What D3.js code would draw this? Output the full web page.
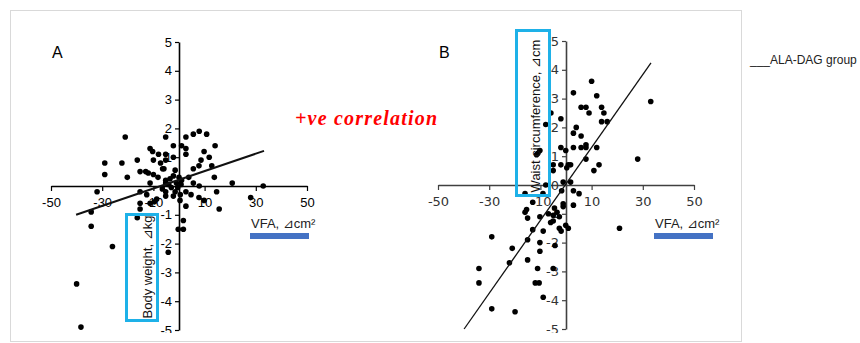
<!DOCTYPE html>
<html>
<head>
<meta charset="utf-8">
<script src="https://cdn.jsdelivr.net/npm/d3@7"></script>
<style>
  body { margin: 0; background: #fff; }
  svg { display: block; }
</style>
</head>
<body>
<svg id="chart" width="860" height="343"></svg>
<script>
// axis ticks shared by both panels
const xTicks = [-50, -30, -10, 10, 30, 50];
const yTicksA = [-5, -4, -3, -2, -1, 1, 2, 3, 4, 5];
const yTicksB = [-5, -4, -3, -2, -1, 0, 1, 2, 3, 4, 5];

// panel A: change in VFA vs change in body weight
const pointsA = [
  [-21, 1.7], [-29, 0.8], [-29, 0.4], [-32, -0.2], [-34.3, -0.9], [-34.3, -1.4], [-26, -2.1],
  [-40, -3.4], [-38.3, -4.9], [-22.3, 0.8], [-20.2, 0.3], [-16.3, 0.9], [-15.2, 0.5], [-13, 0.5],
  [-11.3, 1.3], [-10.3, 1.2], [-10, 0.9], [-12, 0.45], [-10, 0.4], [-11.3, 0.1], [-15.2, -0.2],
  [-15.2, -0.6], [-15.2, -0.8], [-16.3, -1.1], [-12.6, -0.3], [-11.3, -0.6], [-9.6, -0.55],
  [-8.7, -0.45], [-8.2, 0.3], [-7.2, 0.8], [-6.4, 0.6], [-5.9, 0.6], [-5.2, 1.7], [-5.2, 1.1],
  [-5.2, 0.9], [-5.2, 0.2], [-5.2, -0.2], [-5.2, -0.35], [-2.2, 1.4], [-2.2, 1.0], [-2.2, 0.35],
  [-3.5, 0.25], [-4, 0.05], [-2.2, -0.35], [-1.5, -0.2], [1, 1.4], [2.7, 1.7], [2.7, 1.3],
  [2.7, 1.1], [5.6, 1.8], [7.9, 1.9], [10.8, 1.8], [9.8, 1.2], [11.8, 1.0], [14.1, 1.4],
  [12.8, 0.7], [13.8, 0.3], [8.6, 0.9], [7.8, 0.7], [5.6, 0.6], [3.8, 0.3], [1, 0.2], [5.6, 0.1],
  [7.9, 0], [2.7, -0.2], [4.7, -0.3], [7.8, -0.4], [9.8, -0.5], [14.7, -0.2], [15.7, -0.8],
  [2.7, -0.7], [0.4, -0.5], [20.8, 0.1], [28, -0.4], [32.9, 0], [1.7, -1.2], [-0.3, -1.5],
  [1.7, -1.5], [-4.2, -2.3], [-5.2, 0.1], [-1, 0.1], [0, 0.3], [-0.5, -0.05], [0.8, 0.05],
  [-3, -0.05], [-1.5, 0.55], [-6.5, -0.1], [0.5, -0.3], [-8, 1.1]
];
const trendA = [[-40.2, -1.0], [33.2, 1.22]];

// panel B: change in VFA vs change in waist circumference
const pointsB = [
  [10, 3.6], [2.9, 3.2], [12, 3.1], [33.1, 2.9], [5.9, 2.7], [7.8, 2.7], [9, 2.5], [13.9, 2.7],
  [14.8, 2.5], [13.9, 2.2], [16.1, 2.2], [4, 2.0], [2.9, 1.8], [5.9, 1.7], [2.9, 1.3], [5.9, 1.3],
  [7.8, 1.4], [7.8, 1.3], [12, 1.3], [7.8, 0.9], [12.9, 0.7], [10.9, 0.5], [28, 0.9], [-2, 2.3],
  [-5.9, 2.5], [-7.9, 2.1], [-2, 1.3], [-0.1, 1.2], [-2, 0.7], [-5, 0.7], [-5, 0.5], [0.9, 0.7],
  [1.8, 0.7], [0.3, 0.6], [-1.1, 0.1], [1.8, 0.1], [-7.9, 0], [-11.5, 1.05], [-10.2, 1.2],
  [-11, 1.1], [-16, -0.3], [-13, -0.6], [-15.4, -0.85], [-16, -0.95], [-15, -1.15], [-10.2, -1.1],
  [-6.9, -1.0], [-5, -1.05], [-5, -1.25], [-2.6, -1.1], [-3.5, -0.95], [-1.1, -0.65],
  [-1.1, -0.75], [-1.7, -0.2], [2.9, -0.2], [5.1, -0.3], [2.9, -0.7], [-0.1, -1.4], [0.9, -1.5],
  [-2.6, -1.5], [-1.9, -1.6], [-13, -1.55], [-8.9, -1.6], [-15, -1.9], [-10.2, -2.0],
  [-10.2, -2.3], [-4.3, -2.1], [-29, -1.8], [-21, -2.2], [-22.1, -2.7], [-15, -2.6], [-34, -2.9],
  [-34, -3.4], [-11.1, -2.9], [-5, -2.9], [-12, -3.4], [-10.5, -3.4], [-8.9, -3.9], [-29, -4.3],
  [-19.9, -4.4], [20.9, -1.5], [-4.5, -0.8], [-6, -1.3], [-9, -0.3]
];
const trendB = [[-39.8, -5.0], [33.2, 4.24]];

const svg = d3.select("#chart");

// outer frame
svg.append("rect")
  .attr("x", 10.5).attr("y", 10.5)
  .attr("width", 731).attr("height", 331)
  .attr("fill", "#fff")
  .attr("stroke", "#d9d9d9");

svg.append("clipPath").attr("id", "cut")
  .append("rect").attr("x", 0).attr("y", 0).attr("width", 860).attr("height", 333);

function drawPanel(cfg) {
  const g = svg.append("g").attr("clip-path", "url(#cut)");
  const x = d3.scaleLinear().domain([-50, 50]).range(cfg.xRange);
  const y = d3.scaleLinear().domain([-5, 5]).range(cfg.yRange);

  // x axis through y = 0
  const xa = g.append("g")
    .attr("transform", "translate(0," + y(0) + ")")
    .call(d3.axisBottom(x).tickValues(xTicks).tickFormat(d => String(d))
      .tickSize(5).tickSizeOuter(0).tickPadding(7));
  // y axis through x = 0
  const ya = g.append("g")
    .attr("transform", "translate(" + x(0) + ",0)")
    .call(d3.axisLeft(y).tickValues(cfg.yTicks).tickFormat(d => String(d))
      .tickSize(4).tickSizeOuter(0).tickPadding(3));

  [xa, ya].forEach(a => {
    a.select(".domain").attr("stroke", cfg.axisColor).attr("stroke-width", 1.6);
    a.selectAll(".tick line").attr("stroke", cfg.axisColor).attr("stroke-width", 1.2);
    a.selectAll("text")
      .attr("fill", cfg.textColor)
      .style("font-family", cfg.font)
      .style("font-size", "13px");
  });

  g.append("g").selectAll("circle")
    .data(cfg.points)
    .enter()
    .append("circle")
    .attr("cx", d => x(d[0]))
    .attr("cy", d => y(d[1]))
    .attr("r", 2.8)
    .attr("fill", "#000");

  g.append("line")
    .attr("x1", x(cfg.trend[0][0])).attr("y1", y(cfg.trend[0][1]))
    .attr("x2", x(cfg.trend[1][0])).attr("y2", y(cfg.trend[1][1]))
    .attr("stroke", "#111")
    .attr("stroke-width", cfg.trendWidth);

  // panel letter
  g.append("text")
    .attr("x", cfg.letterPos[0]).attr("y", cfg.letterPos[1])
    .style("font-family", "Liberation Sans, Arial, sans-serif")
    .style("font-size", "16px")
    .attr("fill", "#000")
    .text(cfg.letter);

  // highlighted y label
  g.append("rect")
    .attr("x", cfg.box[0]).attr("y", cfg.box[1])
    .attr("width", cfg.box[2]).attr("height", cfg.box[3])
    .attr("fill", "none")
    .attr("stroke", "#1eb1e8")
    .attr("stroke-width", 3);
  g.append("text")
    .attr("transform", "translate(" + cfg.yLabelPos[0] + "," + cfg.yLabelPos[1] + ") rotate(-90)")
    .attr("text-anchor", "middle")
    .style("font-family", "Liberation Sans, Arial, sans-serif")
    .style("font-size", "13px")
    .attr("fill", "#111")
    .text(cfg.yLabel);

  // x label with blue bar under it
  g.append("text")
    .attr("x", cfg.xLabelPos[0]).attr("y", cfg.xLabelPos[1])
    .style("font-family", "Liberation Sans, Arial, sans-serif")
    .style("font-size", "13px")
    .attr("fill", "#222")
    .text("VFA, \u22bfcm\u00b2");
  g.append("rect")
    .attr("x", cfg.xLabelPos[0] - 1).attr("y", cfg.xLabelPos[1] + 5)
    .attr("width", 59).attr("height", 6)
    .attr("fill", "#4472c4");
}

drawPanel({
  xRange: [51, 307], yRange: [330, 42], yTicks: yTicksA,
  points: pointsA, trend: trendA, trendWidth: 2,
  axisColor: "#000", textColor: "#000", font: "Liberation Sans, Arial, sans-serif",
  letter: "A", letterPos: [52, 58],
  box: [126.5, 214.5, 31, 106], yLabel: "Body weight, \u22bfkg", yLabelPos: [152, 267],
  xLabelPos: [251, 228]
});

drawPanel({
  xRange: [438, 694], yRange: [329, 41], yTicks: yTicksB,
  points: pointsB, trend: trendB, trendWidth: 1.3,
  axisColor: "#404040", textColor: "#333", font: "DejaVu Sans, Verdana, sans-serif",
  letter: "B", letterPos: [439, 58],
  box: [516.5, 30.5, 33, 165], yLabel: "Waist circumference, \u22bfcm", yLabelPos: [540, 116],
  xLabelPos: [655, 228]
});

// annotation
svg.append("text")
  .attr("x", 295).attr("y", 125)
  .attr("textLength", 142)
  .style("font-family", "Liberation Serif, serif")
  .style("font-style", "italic")
  .style("font-weight", "bold")
  .style("font-size", "20px")
  .attr("fill", "#ff0000")
  .text("+ve correlation");

// legend note
svg.append("text")
  .attr("x", 750).attr("y", 64)
  .style("font-family", "Liberation Sans, Arial, sans-serif")
  .style("font-size", "12px")
  .attr("fill", "#222")
  .text("___ALA-DAG group");
</script>
</body>
</html>
